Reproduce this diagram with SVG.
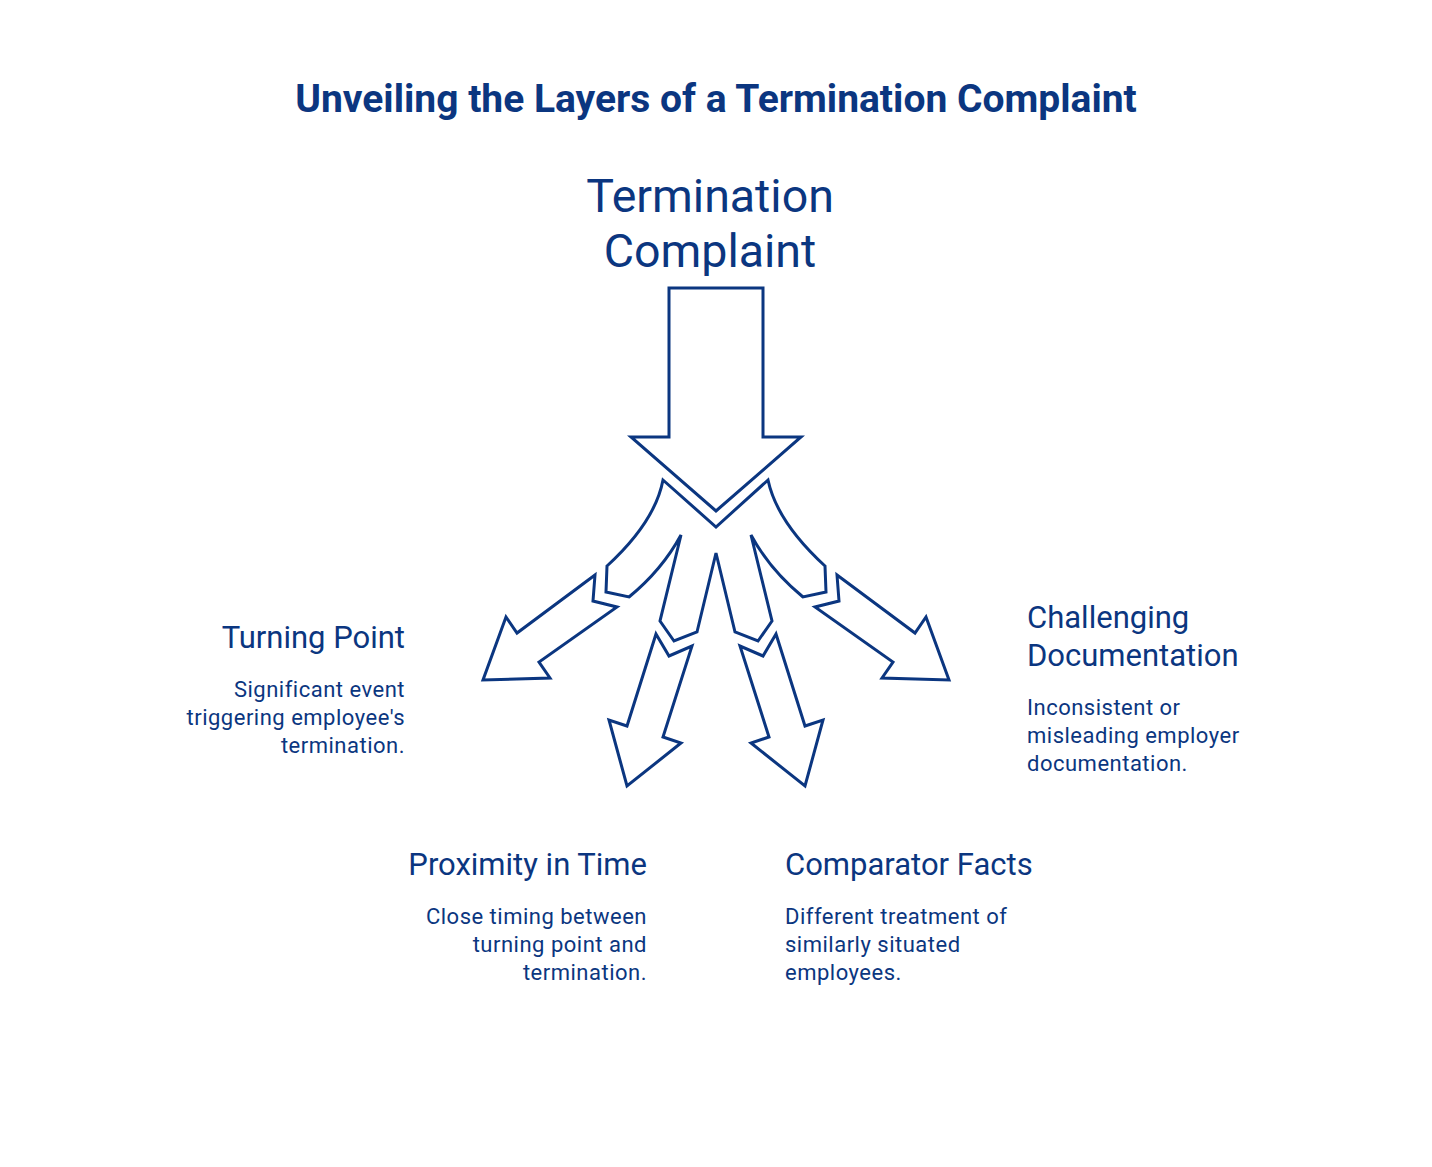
<svg xmlns="http://www.w3.org/2000/svg" width="1432" height="1167" viewBox="0 0 1432 1167">
<style>
text{font-family:Roboto,"Liberation Sans",sans-serif;fill:#0b3680}
.title{font-size:39px;font-weight:700}
.main{font-size:46.5px}
.head{font-size:31px}
.desc{font-size:22px;letter-spacing:0.5px}
.r{text-anchor:end}
.shape{fill:#fff;stroke:#0b3680;stroke-width:3;stroke-linejoin:miter}
</style>
<rect width="1432" height="1167" fill="#fff"/>
<text class="title" x="716" y="112" text-anchor="middle">Unveiling the Layers of a Termination Complaint</text>
<g id="main">
<text class="main" x="710" y="212" text-anchor="middle">Termination</text>
<text class="main" x="710" y="267" text-anchor="middle">Complaint</text>
<path class="shape" d="M669,288 H763 V437 H801 L716,511 L631,437 H669 Z"/>
</g>
<g id="connectors">
<path class="shape" d="M663,480 L716,527 L768,480 Q777,522 825,566 L826,592 L803,597 Q770,570 751,535 L772,621 L758,641 L735,632 L716,553 L697,632 L674,641 L660,621 L681,535 Q662,570 629,597 L606,592 L607,566 Q655,522 663,480 Z"/>
<path class="shape" d="M595,575 L593,601 L617,607 L539,662 L550,678 L483,680 L506,617 L517,633 Z"/>
<path class="shape" d="M837,575 L839,601 L815,607 L893,662 L882,678 L949,680 L926,617 L915,633 Z"/>
<path class="shape" d="M656,634 L669,656 L692,646 L663,737 L681,743 L627,786 L609,720 L627,726 Z"/>
<path class="shape" d="M776,634 L763,656 L740,646 L769,737 L751,743 L805,786 L823,720 L805,726 Z"/>
</g>
<g id="turning-point">
<text class="head r" x="405" y="648">Turning Point</text>
<text class="desc r" x="405" y="697">Significant event</text>
<text class="desc r" x="405" y="725">triggering employee's</text>
<text class="desc r" x="405" y="753">termination.</text>
</g>
<g id="challenging-documentation">
<text class="head" x="1027" y="628">Challenging</text>
<text class="head" x="1027" y="666">Documentation</text>
<text class="desc" x="1027" y="715">Inconsistent or</text>
<text class="desc" x="1027" y="743">misleading employer</text>
<text class="desc" x="1027" y="771">documentation.</text>
</g>
<g id="proximity-in-time">
<text class="head r" x="647" y="875">Proximity in Time</text>
<text class="desc r" x="647" y="924">Close timing between</text>
<text class="desc r" x="647" y="952">turning point and</text>
<text class="desc r" x="647" y="980">termination.</text>
</g>
<g id="comparator-facts">
<text class="head" x="785" y="875">Comparator Facts</text>
<text class="desc" x="785" y="924">Different treatment of</text>
<text class="desc" x="785" y="952">similarly situated</text>
<text class="desc" x="785" y="980">employees.</text>
</g>
</svg>
